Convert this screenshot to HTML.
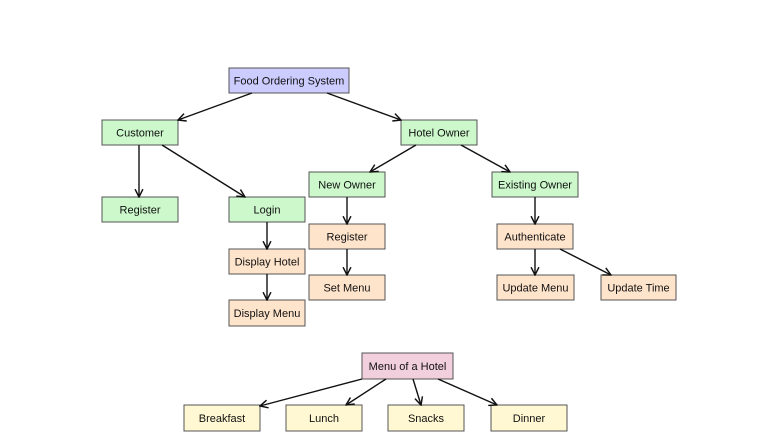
<!DOCTYPE html>
<html><head><meta charset="utf-8"><style>
html,body{margin:0;padding:0;background:#fff;width:768px;height:447px;overflow:hidden}
text{font-family:"Liberation Sans",sans-serif;font-size:11px;fill:#111}
</style></head><body>
<svg width="768" height="447" viewBox="0 0 768 447" xmlns="http://www.w3.org/2000/svg">
<defs><marker id="a" viewBox="0 0 10 10" refX="9" refY="5" markerWidth="7" markerHeight="7" orient="auto"><path d="M1,1 L9,5 L1,9" fill="none" stroke="#111" stroke-width="1.5"/></marker></defs>
<g stroke="#555" stroke-width="1">
<rect x="229" y="68" width="120" height="25" fill="#ccccff"/>
<rect x="102" y="120" width="76" height="25" fill="#ccf8cc"/>
<rect x="401" y="120" width="76" height="25" fill="#ccf8cc"/>
<rect x="102" y="197" width="76" height="25" fill="#ccf8cc"/>
<rect x="229" y="197" width="76" height="25" fill="#ccf8cc"/>
<rect x="309" y="172" width="76" height="25" fill="#ccf8cc"/>
<rect x="492" y="172" width="86" height="25" fill="#ccf8cc"/>
<rect x="229" y="249" width="76" height="25" fill="#ffe4cc"/>
<rect x="229" y="300" width="76" height="26" fill="#ffe4cc"/>
<rect x="309" y="224" width="76" height="25" fill="#ffe4cc"/>
<rect x="309" y="275" width="76" height="25" fill="#ffe4cc"/>
<rect x="497" y="224" width="76" height="25" fill="#ffe4cc"/>
<rect x="497" y="275" width="77" height="25" fill="#ffe4cc"/>
<rect x="601" y="275" width="75" height="25" fill="#ffe4cc"/>
<rect x="362" y="353" width="91" height="26" fill="#f2cfdc"/>
<rect x="184" y="405" width="76" height="26" fill="#fff8d2"/>
<rect x="286" y="405" width="76" height="26" fill="#fff8d2"/>
<rect x="388" y="405" width="76" height="26" fill="#fff8d2"/>
<rect x="491" y="405" width="76" height="26" fill="#fff8d2"/>
</g>
<g stroke="#111" stroke-width="1.4" marker-end="url(#a)">
<line x1="252" y1="93" x2="178" y2="120"/>
<line x1="327" y1="93" x2="401" y2="120"/>
<line x1="139" y1="145" x2="139" y2="197"/>
<line x1="162" y1="145" x2="245" y2="197"/>
<line x1="416" y1="145" x2="370" y2="172"/>
<line x1="461" y1="145" x2="510" y2="172"/>
<line x1="347" y1="197" x2="347" y2="224"/>
<line x1="267" y1="222" x2="267" y2="249"/>
<line x1="267" y1="274" x2="267" y2="300"/>
<line x1="347" y1="249" x2="347" y2="275"/>
<line x1="535" y1="197" x2="535" y2="224"/>
<line x1="535" y1="249" x2="535" y2="275"/>
<line x1="560" y1="249" x2="611" y2="275"/>
<line x1="362" y1="379" x2="260" y2="406"/>
<line x1="386" y1="379" x2="346" y2="405"/>
<line x1="413" y1="379" x2="421" y2="405"/>
<line x1="438" y1="379" x2="497" y2="405"/>
</g>
<g text-anchor="middle">
<text x="289" y="84.5">Food Ordering System</text>
<text x="140" y="136.5">Customer</text>
<text x="439" y="136.5">Hotel Owner</text>
<text x="140" y="213.5">Register</text>
<text x="267" y="213.5">Login</text>
<text x="347" y="188.5">New Owner</text>
<text x="535" y="188.5">Existing Owner</text>
<text x="267" y="265.5">Display Hotel</text>
<text x="267" y="317">Display Menu</text>
<text x="347" y="240.5">Register</text>
<text x="347" y="291.5">Set Menu</text>
<text x="535" y="240.5">Authenticate</text>
<text x="535.5" y="291.5">Update Menu</text>
<text x="638.5" y="291.5">Update Time</text>
<text x="407.5" y="370">Menu of a Hotel</text>
<text x="222" y="422">Breakfast</text>
<text x="324" y="422">Lunch</text>
<text x="426" y="422">Snacks</text>
<text x="529" y="422">Dinner</text>
</g>
</svg>
</body></html>
